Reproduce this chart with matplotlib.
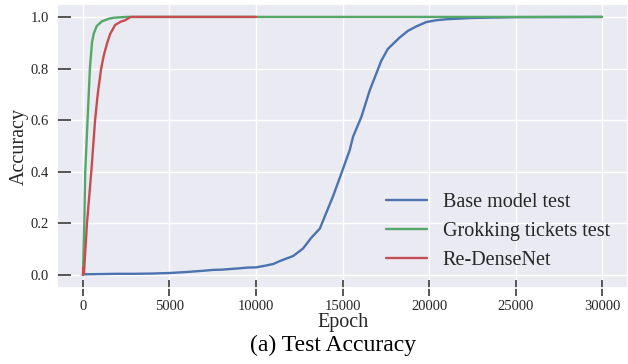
import numpy as np
import matplotlib
matplotlib.use("Agg")
import matplotlib.pyplot as plt
import seaborn as sns

# values
base_epoch = [0, 1000, 2000, 3000, 4000, 5000, 6000, 7000, 7500, 8000, 9000,
              9500, 10000, 10500, 11000, 11400, 12150, 12720, 13200, 13690,
              13980, 14450, 14940, 15420, 15610, 16090, 16570, 17240, 17620,
              18300, 18780, 19260, 19840, 20410, 21000, 22500, 25000, 30000]
base_acc = [0.003, 0.004, 0.005, 0.005, 0.006, 0.008, 0.012, 0.017, 0.020,
            0.021, 0.026, 0.029, 0.030, 0.036, 0.043, 0.055, 0.074, 0.103,
            0.145, 0.180, 0.228, 0.305, 0.395, 0.485, 0.536, 0.613, 0.715,
            0.830, 0.876, 0.920, 0.946, 0.963, 0.980, 0.987, 0.991, 0.996,
            0.999, 1.0]

ticket_epoch = [0, 75, 130, 265, 400, 520, 620, 800, 1100, 1500, 1800, 2500,
                12000, 30000]
ticket_acc = [0.0, 0.20, 0.40, 0.60, 0.80, 0.90, 0.935, 0.965, 0.983, 0.993,
              0.997, 1.0, 1.0, 1.0]

dense_epoch = [0, 30, 60, 230, 480, 700, 850, 1050, 1200, 1380, 1570, 1860,
               2200, 2440, 2750, 10000]
dense_acc = [0.0, 0.03, 0.01, 0.20, 0.40, 0.60, 0.70, 0.80, 0.85, 0.895,
             0.934, 0.969, 0.982, 0.987, 1.0, 1.0]

x_ticks = [0, 5000, 10000, 15000, 20000, 25000, 30000]
y_ticks = [0.0, 0.2, 0.4, 0.6, 0.8, 1.0]

sns.set_theme(style="darkgrid")
plt.rcParams["font.family"] = ["Liberation Serif", "DejaVu Serif"]

fig = plt.figure(figsize=(6.28, 3.64), dpi=100)
ax = fig.add_axes([0.0908, 0.2088, 0.9092, 0.7802])

pal = sns.color_palette("deep")
ax.plot(base_epoch, base_acc, color=pal[0], lw=1.7, label="Base model test")
ax.plot(ticket_epoch, ticket_acc, color=pal[2], lw=1.7, label="Grokking tickets test")
ax.plot(dense_epoch, dense_acc, color=pal[3], lw=1.7, label="Re-DenseNet")

ax.set_xticks(x_ticks)
ax.set_yticks(y_ticks)
ax.set_yticklabels([f"{v:.1f}" for v in y_ticks])
ax.tick_params(axis="y", direction="in", length=10, width=1.2, color="#3a3a3a",
               labelsize=10.5, labelcolor="#262626", pad=6, left=True)
ax.tick_params(axis="x", direction="inout", length=12, width=1.2, color="#3a3a3a",
               labelsize=10.5, labelcolor="#262626", pad=3, bottom=True)

ax.set_ylabel("Accuracy", fontsize=14.5, color="#262626", labelpad=1)

ax.legend(loc="lower right", frameon=False, fontsize=14.5,
          bbox_to_anchor=(0.993, 0.012), borderaxespad=0.3)

fig.text(0.5462, 0.115, "Epoch", ha="center", va="center", fontsize=14.5, color="#262626")
fig.text(0.531, 0.052, "(a) Test Accuracy", ha="center", va="center", fontsize=17, color="black")

fig.savefig("out.png", dpi=100)
